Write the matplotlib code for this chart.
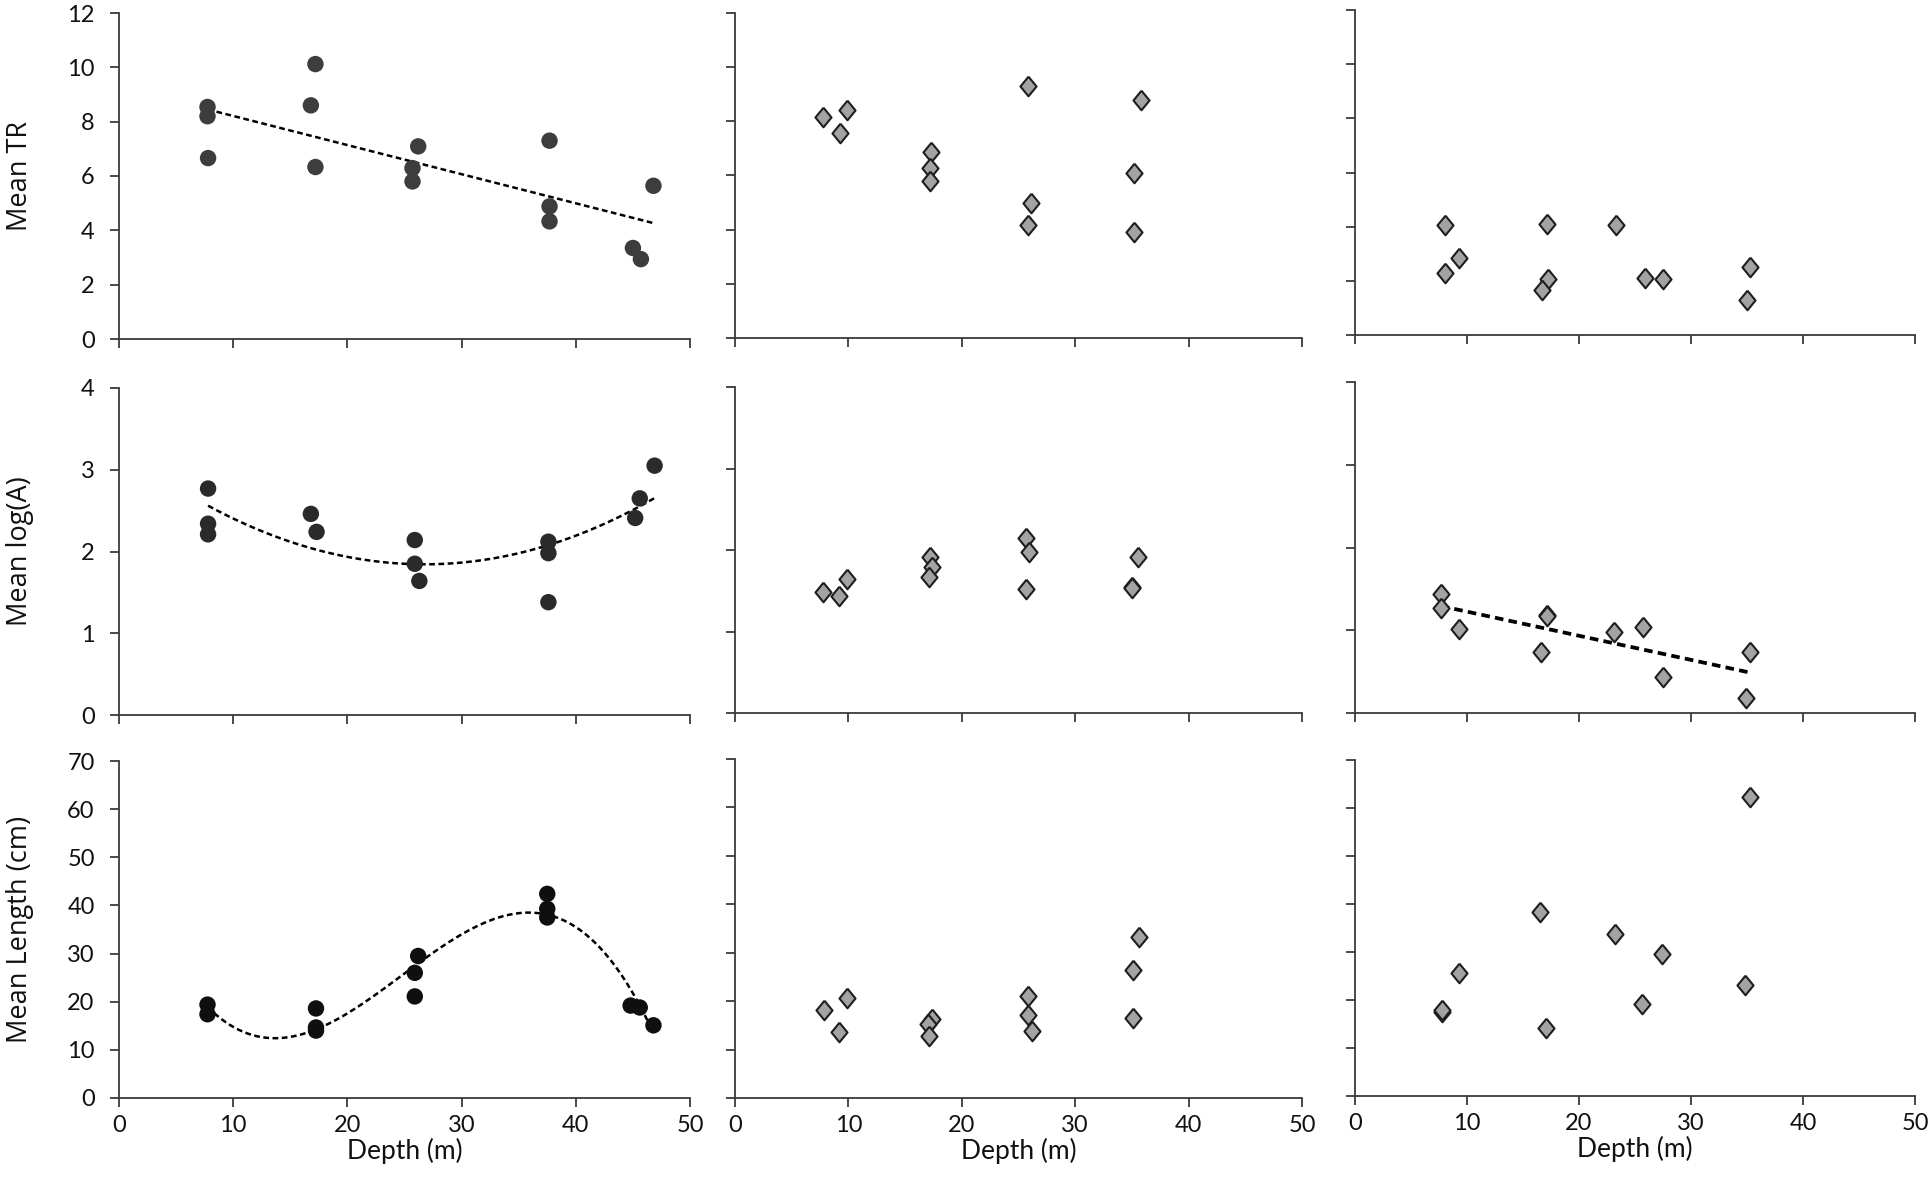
import numpy as np
import matplotlib
matplotlib.use("Agg")
import matplotlib.pyplot as plt

# ---- data (depth in m) ----
# row 1: Mean TR
tr_a_depth = [7.75, 7.75, 7.8, 16.8, 17.2, 17.2, 26.2, 25.7, 25.7, 37.7, 37.7, 37.7, 45.0, 45.7, 46.8]
tr_a_val = [8.54, 8.2, 6.66, 8.6, 10.12, 6.33, 7.09, 6.29, 5.8, 7.3, 4.88, 4.33, 3.35, 2.94, 5.64]
tr_b_depth = [7.8, 9.9, 9.3, 17.3, 17.2, 17.2, 25.8, 26.1, 25.8, 35.8, 35.2, 35.2]
tr_b_val = [8.15, 8.4, 7.57, 6.87, 6.26, 5.79, 9.3, 4.99, 4.19, 8.8, 6.1, 3.9]
tr_c_depth = [8.0, 9.3, 8.0, 17.1, 17.2, 16.7, 23.3, 25.9, 27.5, 35.3, 35.0]
tr_c_val = [4.05, 2.85, 2.3, 4.1, 2.05, 1.65, 4.05, 2.1, 2.05, 2.5, 1.3]

# row 2: Mean log(A)
la_a_depth = [7.8, 7.8, 7.8, 16.8, 17.3, 25.9, 25.9, 26.3, 37.6, 37.6, 37.6, 45.2, 45.6, 46.9]
la_a_val = [2.77, 2.34, 2.21, 2.46, 2.24, 2.14, 1.85, 1.64, 2.12, 1.98, 1.38, 2.41, 2.65, 3.05]
la_b_depth = [7.8, 9.2, 9.9, 17.2, 17.4, 17.1, 25.7, 25.9, 25.7, 35.5, 35.0, 35.0]
la_b_val = [1.49, 1.43, 1.64, 1.92, 1.79, 1.67, 2.15, 1.98, 1.52, 1.92, 1.54, 1.53]
la_c_depth = [7.7, 7.65, 9.25, 17.15, 17.15, 16.6, 23.1, 25.7, 27.5, 35.3, 34.9]
la_c_val = [1.44, 1.27, 1.02, 1.19, 1.17, 0.74, 0.98, 1.04, 0.44, 0.74, 0.18]

# row 3: Mean Length (cm)
ln_a_depth = [7.75, 7.75, 17.25, 17.25, 17.25, 25.9, 26.2, 25.9, 37.5, 37.5, 37.5, 44.8, 45.6, 46.8]
ln_a_val = [19.4, 17.4, 18.6, 14.65, 14.0, 26.0, 29.5, 21.1, 42.4, 39.3, 37.5, 19.2, 18.8, 15.1]
ln_b_depth = [7.86, 9.2, 9.9, 17.4, 17.0, 17.1, 25.8, 25.8, 26.2, 35.6, 35.1, 35.1]
ln_b_val = [18.2, 13.6, 20.7, 16.3, 15.3, 12.9, 21.1, 17.2, 13.9, 33.3, 26.4, 16.6]
ln_c_depth = [7.8, 7.8, 9.25, 16.5, 17.06, 23.2, 27.4, 25.6, 35.3, 34.8]
ln_c_val = [17.6, 17.9, 25.7, 38.3, 14.1, 33.8, 29.6, 19.2, 62.2, 23.1]

row_labels = ["Mean TR", "Mean log(A)", "Mean Length (cm)"]
row_ylims = [(0, 12), (0, 4), (0, 70)]
row_ysteps = [2, 1, 10]
x_ticks = [0, 10, 20, 30, 40, 50]

panels = [
    [(tr_a_depth, tr_a_val, 1), (tr_b_depth, tr_b_val, None), (tr_c_depth, tr_c_val, None)],
    [(la_a_depth, la_a_val, 2), (la_b_depth, la_b_val, None), (la_c_depth, la_c_val, 1)],
    [(ln_a_depth, ln_a_val, 3), (ln_b_depth, ln_b_val, None), (ln_c_depth, ln_c_val, None)],
]

# axes boxes in pixels: (left, top, right, bottom)
W, H = 1931, 1194
boxes = [
    [(119, 13, 690, 339), (735, 13, 1302, 338), (1355, 10, 1915, 335)],
    [(119, 388, 690, 715), (735, 387, 1302, 713), (1355, 382, 1915, 713)],
    [(119, 761, 690, 1098), (735, 759, 1302, 1098), (1355, 760, 1915, 1096)],
]

circle_colors = ["#3d3d3d", "#2a2a2a", "#0f0f0f"]
diamond = [(0, 1), (0.82, 0), (0, -1), (-0.82, 0), (0, 1)]

plt.rcParams["font.family"] = ["Lato", "DejaVu Sans"]

fig = plt.figure(figsize=(W / 100, H / 100), dpi=100)

for r in range(3):
    for c in range(3):
        l, t, rr, b = boxes[r][c]
        ax = fig.add_axes([l / W, 1 - b / H, (rr - l) / W, (b - t) / H])
        xs, ys, deg = panels[r][c]
        xs = np.array(xs)
        ys = np.array(ys)

        if c == 0:
            ax.scatter(xs, ys, s=140, marker="o", color=circle_colors[r],
                       edgecolors="none", zorder=3, clip_on=False)
        else:
            ax.scatter(xs, ys, s=200, marker=diamond, facecolor="#a3a3a3",
                       edgecolors="#1e1e1e", linewidths=1.5, zorder=3, clip_on=False)

        if deg is not None:
            coef = np.polyfit(xs, ys, deg)
            xf = np.linspace(xs.min(), xs.max(), 200)
            lw = 2.7 if (r == 1 and c == 2) else 1.8
            ax.plot(xf, np.polyval(coef, xf), color="black", lw=lw,
                    linestyle=(0, (2.3, 1.4)), zorder=2)

        ax.set_xlim(0, 50)
        ax.set_ylim(*row_ylims[r])
        ax.set_xticks(x_ticks)
        lo, hi = row_ylims[r]
        ax.set_yticks(np.arange(lo, hi + 0.001, row_ysteps[r]))
        for s in ["top", "right"]:
            ax.spines[s].set_visible(False)
        for s in ["left", "bottom"]:
            ax.spines[s].set_color("#3a3a3a")
            ax.spines[s].set_linewidth(1.3)
        ax.tick_params(axis="both", direction="out", length=6.5, width=1.3,
                       color="#3a3a3a", labelsize=17, labelcolor="#111111")
        ax.tick_params(axis="y", pad=11)
        ax.tick_params(axis="x", pad=6)

        if c == 0:
            ax.set_ylabel(row_labels[r], fontsize=19.5, family=["Open Sans", "DejaVu Sans"],
                          color="#111111")
            ax.yaxis.set_label_coords((34 - l) / (rr - l), 0.5)
        else:
            ax.set_yticklabels([])
        if r == 2:
            ax.set_xlabel("Depth (m)", fontsize=19, color="#111111", labelpad=1)
        else:
            ax.set_xticklabels([])

fig.savefig("out.png", dpi=100)
